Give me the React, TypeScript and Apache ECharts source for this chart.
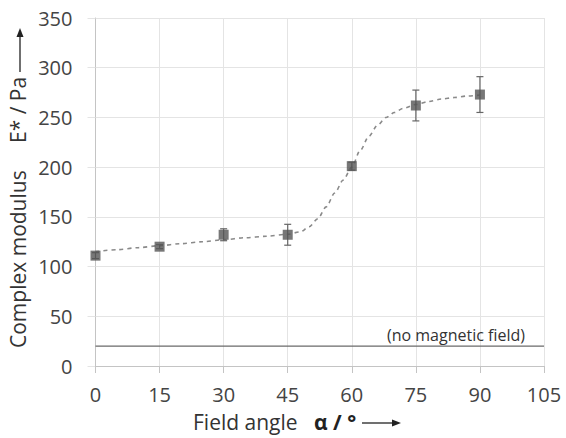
import React, { useEffect, useRef } from "react";
import * as echarts from "echarts";

// Measured points: field angle (°) and complex modulus E* (Pa)
const angles = [0, 15, 30, 45, 60, 75, 90];
const modulus = [111, 120, 132, 132, 201, 262, 273];
const modulusErr = [3, 2, 6, 10.5, 4, 15.5, 18];

// Sigmoid fit through the measurements (dashed curve)
const fitAngles = [0, 5, 10, 15, 20, 25, 30, 35, 40, 45, 48, 50, 52, 54, 56, 58, 60, 62, 64, 66, 68, 70, 72, 75, 78, 81, 84, 87, 90];
const fitModulus = [115, 117, 119, 121, 123, 125, 127, 129, 130.5, 132.5, 135, 140, 148, 160, 174, 187, 200, 217, 231, 242, 250, 255, 259, 263, 266, 268.5, 270, 271.5, 272.5];

// Reference level without magnetic field
const noFieldLevel = 20;

const xTicks = [0, 15, 30, 45, 60, 75, 90, 105];
const yMax = 350;

const FONT = "'Open Sans'";

export default function App() {
  const ref = useRef<HTMLDivElement>(null);

  useEffect(() => {
    if (!ref.current) return;
    const chart = echarts.init(ref.current, null, { renderer: "svg" });

    const points = angles.map((a, i) => [a, modulus[i]]);
    const errData = angles.map((a, i) => [a, modulus[i] - modulusErr[i], modulus[i] + modulusErr[i]]);
    const fit = fitAngles.map((a, i) => [a, fitModulus[i]]);

    chart.setOption({
      animation: false,
      backgroundColor: "#fff",
      grid: { left: 95.5, right: 22, top: 18, bottom: 72 },
      xAxis: {
        type: "value",
        min: xTicks[0],
        max: xTicks[xTicks.length - 1],
        interval: 15,
        axisLine: { show: true, lineStyle: { color: "#c4c4c4", width: 1 } },
        axisTick: { show: true, length: 7, lineStyle: { color: "#c4c4c4" } },
        splitLine: { show: true, lineStyle: { color: "#e4e4e4", width: 1 } },
        axisLabel: { color: "#444", fontFamily: FONT, fontSize: 20, margin: 18 },
      },
      yAxis: {
        type: "value",
        min: 0,
        max: yMax,
        interval: 50,
        axisLine: { show: true, lineStyle: { color: "#c4c4c4", width: 1 } },
        axisTick: { show: true, inside: false, length: 8, lineStyle: { color: "#e4e4e4" } },
        splitLine: { show: true, lineStyle: { color: "#e4e4e4", width: 1 } },
        axisLabel: { color: "#444", fontFamily: FONT, fontSize: 20, margin: 23 },
      },
      series: [
        {
          type: "line",
          data: [[xTicks[0], noFieldLevel], [xTicks[xTicks.length - 1], noFieldLevel]],
          symbol: "none",
          lineStyle: { color: "#6a6a6a", width: 1.2 },
          silent: true,
          z: 2,
        },
        {
          type: "line",
          data: fit,
          smooth: 0.3,
          smoothMonotone: "x",
          symbol: "none",
          lineStyle: { color: "#8a8a8a", width: 1.6, type: [4, 4] },
          silent: true,
          z: 3,
        },
        {
          type: "custom",
          data: errData,
          z: 4,
          renderItem: (params: any, api: any) => {
            const x = api.coord([api.value(0), api.value(1)])[0];
            const lo = api.coord([api.value(0), api.value(1)])[1];
            const hi = api.coord([api.value(0), api.value(2)])[1];
            const cap = 3.5;
            const style = { stroke: "#666", lineWidth: 1.2 };
            return {
              type: "group",
              children: [
                { type: "line", shape: { x1: x, y1: lo, x2: x, y2: hi }, style },
                { type: "line", shape: { x1: x - cap, y1: lo, x2: x + cap, y2: lo }, style },
                { type: "line", shape: { x1: x - cap, y1: hi, x2: x + cap, y2: hi }, style },
              ],
            };
          },
        },
        {
          type: "scatter",
          data: points,
          symbol: "rect",
          symbolSize: 10,
          itemStyle: { color: "#555" },
          z: 5,
        },
      ],
      graphic: [
        {
          type: "text",
          x: 525,
          y: 335,
          z: 100,
          style: {
            text: "(no magnetic field)",
            fill: "#333",
            font: `16px ${FONT}`,
            textAlign: "right",
            textVerticalAlign: "middle",
          },
        },
        {
          type: "text",
          x: 193,
          y: 422,
          style: {
            text: "Field angle",
            textVerticalAlign: "middle",
            fill: "#333",
            font: `21px ${FONT}`,
          },
        },
        {
          type: "text",
          x: 314,
          y: 422,
          style: {
            text: "α / °",
            textVerticalAlign: "middle",
            fill: "#222",
            font: `bold 21px ${FONT}`,
          },
        },
        {
          type: "line",
          shape: { x1: 362, y1: 423, x2: 394, y2: 423 },
          style: { stroke: "#222", lineWidth: 1.3 },
        },
        {
          type: "polygon",
          shape: { points: [[401, 423], [392, 419.5], [392, 426.5]] },
          style: { fill: "#222" },
        },
        {
          type: "text",
          x: 18,
          y: 348,
          rotation: Math.PI / 2,
          style: {
            text: "Complex modulus",
            textVerticalAlign: "middle",
            fill: "#333",
            font: `21px ${FONT}`,
          },
        },
        {
          type: "text",
          x: 18,
          y: 143,
          rotation: Math.PI / 2,
          style: {
            text: "E* / Pa",
            textVerticalAlign: "middle",
            fill: "#333",
            font: `21px ${FONT}`,
          },
        },
        {
          type: "line",
          shape: { x1: 20, y1: 72, x2: 20, y2: 36 },
          style: { stroke: "#222", lineWidth: 1.3 },
        },
        {
          type: "polygon",
          shape: { points: [[20, 28], [16.5, 37], [23.5, 37]] },
          style: { fill: "#222" },
        },
      ],
    });

    return () => chart.dispose();
  }, []);

  return (
    <div
      ref={ref}
      style={{ position: "absolute", left: 0, top: 0, width: 566, height: 438 }}
    />
  );
}
